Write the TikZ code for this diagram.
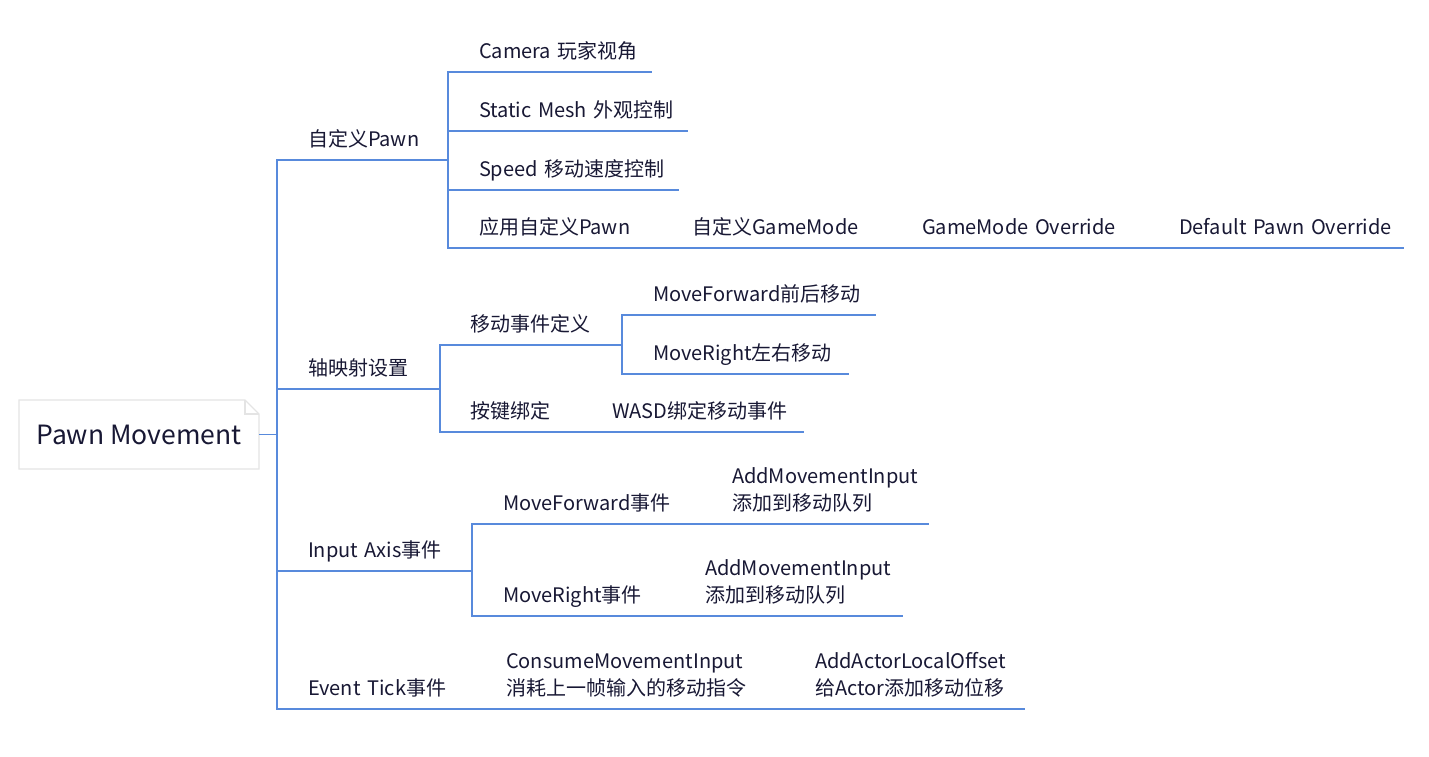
\documentclass[tikz,border=0pt]{standalone}
\usepackage{fontspec}
\setmainfont{Noto Sans CJK SC}
\definecolor{ink}{RGB}{24,24,52}
\definecolor{branch}{RGB}{88,138,220}
\definecolor{rootline}{RGB}{228,228,228}
\begin{document}
\begin{tikzpicture}[x=1pt,y=-1pt,
  topic/.style={anchor=south west, inner xsep=0pt, inner ysep=0pt, outer sep=0pt,
    text depth=13.5pt, align=left, text=ink, font=\fontsize{20}{27}\selectfont},
  topictwo/.style={topic, text depth=40.5pt},
  link/.style={draw=branch, line width=1.5pt},
  rootbox/.style={minimum width=240pt, minimum height=69pt, inner sep=0pt, outer sep=0pt,
    text=ink, font=\fontsize{26.5}{32}\selectfont},
  rootframe/.style={draw=rootline, line width=1.2pt}]
\useasboundingbox (0,0) rectangle (1429,756);

% root
\node[rootbox] (root) at (139,434.5) {Pawn Movement};
\draw[rootframe] (root.north west) -- ([xshift=-14pt]root.north east)
  -- ([yshift=-14pt]root.north east) -- (root.south east) -- (root.south west) -- cycle;
\draw[rootframe] ([xshift=-14pt]root.north east) -- ([xshift=-14pt,yshift=-14pt]root.north east)
  -- ([yshift=-14pt]root.north east);
\coordinate (trunk) at (277,434.5);

% level 1
\node[topic, text width=140pt] (A) at (308,160) {自定义Pawn};
\node[topic, text width=132pt] (B) at (308,389) {轴映射设置};
\node[topic, text width=164pt] (C) at (308,571) {Input Axis事件};
\node[topic, text width=167pt] (D) at (308,709) {Event Tick事件};

% 自定义Pawn
\node[topic, text width=173pt] (A1) at (479,72) {Camera 玩家视角};
\node[topic, text width=209pt] (A2) at (479,131) {Static Mesh 外观控制};
\node[topic, text width=200pt] (A3) at (479,190) {Speed 移动速度控制};
\node[topic, text width=182pt] (A4) at (479,248) {应用自定义Pawn};
\node[topic, text width=199pt] (A41) at (692,248) {自定义GameMode};
\node[topic, text width=226pt] (A42) at (922,248) {GameMode Override};
\node[topic, text width=225pt] (A43) at (1179,248) {Default Pawn Override};

% 轴映射设置
\node[topic, text width=152pt] (B1) at (470,345) {移动事件定义};
\node[topic, text width=223pt] (B11) at (653,315) {MoveForward前后移动};
\node[topic, text width=196pt] (B12) at (653,374) {MoveRight左右移动};
\node[topic, text width=111pt] (B2) at (470,432) {按键绑定};
\node[topic, text width=192pt] (B21) at (612,432) {WASD绑定移动事件};

% Input Axis事件
\node[topic, text width=198pt] (C1) at (503,524) {MoveForward事件};
\node[topictwo, text width=197pt] (C11) at (732,524) {AddMovementInput\\添加到移动队列};
\node[topic, text width=171pt] (C2) at (503,616) {MoveRight事件};
\node[topictwo, text width=198pt] (C21) at (705,616) {AddMovementInput\\添加到移动队列};

% Event Tick事件
\node[topictwo, text width=278pt] (D1) at (506,709) {ConsumeMovementInput\\消耗上一帧输入的移动指令};
\node[topictwo, text width=210pt] (D11) at (815,709) {AddActorLocalOffset\\给Actor添加移动位移};

% connectors
\draw[link] (root.east) -- (trunk);
\foreach \c in {A,B,C,D} \draw[link] (trunk) |- (\c.south east);
\foreach \c in {A1,A2,A3,A4} \draw[link] (A.south east) |- (\c.south east);
\draw[link] (A4.south east) -- (A41.south east);
\draw[link] (A41.south east) -- (A42.south east);
\draw[link] (A42.south east) -- (A43.south east);
\foreach \c in {B1,B2} \draw[link] (B.south east) |- (\c.south east);
\foreach \c in {B11,B12} \draw[link] (B1.south east) |- (\c.south east);
\draw[link] (B2.south east) -- (B21.south east);
\foreach \c in {C1,C2} \draw[link] (C.south east) |- (\c.south east);
\draw[link] (C1.south east) -- (C11.south east);
\draw[link] (C2.south east) -- (C21.south east);
\draw[link] (D.south east) -- (D1.south east);
\draw[link] (D1.south east) -- (D11.south east);
\end{tikzpicture}
\end{document}
